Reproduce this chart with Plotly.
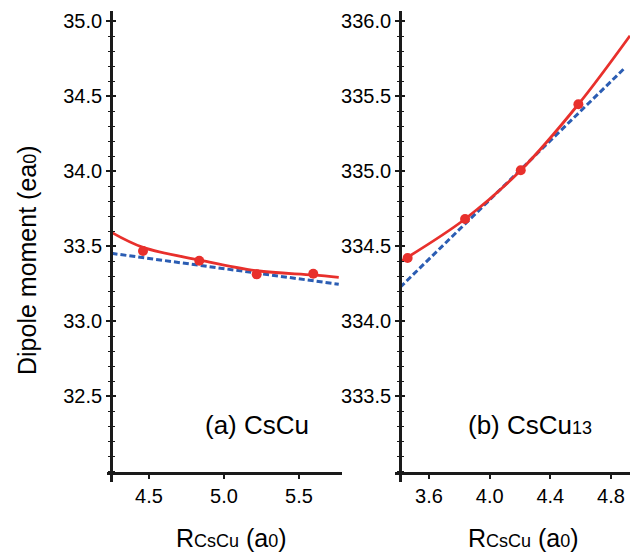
import plotly.graph_objects as go

# ---- data -------------------------------------------------------------
# (a) CsCu : computed dipole moments and fitted curves
r_a = [4.46, 4.835, 5.218, 5.595]
d_a = [33.467, 33.402, 33.311, 33.315]
fit_r_a = [4.25, 4.46, 4.835, 5.218, 5.595, 5.765]
fit_d_a = [33.591, 33.491, 33.407, 33.335, 33.307, 33.291]
lin_r_a = [4.25, 5.765]
lin_d_a = [33.451, 33.245]

# (b) CsCu13
r_b = [3.459, 3.838, 4.205, 4.585]
d_b = [334.42, 334.68, 335.005, 335.445]
fit_r_b = [3.41, 3.838, 4.205, 4.585, 4.925]
fit_d_b = [334.395, 334.68, 335.005, 335.445, 335.902]
lin_r_b = [3.41, 4.893]
lin_d_b = [334.225, 335.689]

yticks_a = [32.5, 33.0, 33.5, 34.0, 34.5, 35.0]
yticks_b = [333.5, 334.0, 334.5, 335.0, 335.5, 336.0]
xticks_a = [4.5, 5.0, 5.5]
xticks_b = [3.6, 4.0, 4.4, 4.8]

RED = "#E8302C"
BLUE = "#2B5DB3"
INK = "#1a1a1a"
FONT = "Liberation Sans, Arial, sans-serif"

W, H = 642, 554


def fx(px):
    return px / W


def fy(py):
    return 1 - py / H


def small(s, size=17):
    # reduced-size index text kept close to the baseline
    return f"<span style='font-size:{size}px'>{s}</span>"


fig = go.Figure()


def add_panel(xa, ya, fr, fd, lr, ld, r, d):
    fig.add_trace(go.Scatter(x=lr, y=ld, mode="lines", xaxis=xa, yaxis=ya,
                             line=dict(color=BLUE, width=3, dash="6px,3px"),
                             showlegend=False, hoverinfo="skip"))
    fig.add_trace(go.Scatter(x=fr, y=fd, mode="lines", xaxis=xa, yaxis=ya,
                             line=dict(color=RED, width=2.8, shape="spline"),
                             showlegend=False, hoverinfo="skip"))
    fig.add_trace(go.Scatter(x=r, y=d, mode="markers", xaxis=xa, yaxis=ya,
                             marker=dict(color=RED, size=10),
                             showlegend=False))


add_panel("x", "y", fit_r_a, fit_d_a, lin_r_a, lin_d_a, r_a, d_a)
add_panel("x2", "y2", fit_r_b, fit_d_b, lin_r_b, lin_d_b, r_b, d_b)
# placeholders so the inner-tick companion axes are drawn
fig.add_trace(go.Scatter(x=[None], y=[None], xaxis="x", yaxis="y3",
                         showlegend=False, hoverinfo="skip"))
fig.add_trace(go.Scatter(x=[None], y=[None], xaxis="x2", yaxis="y4",
                         showlegend=False, hoverinfo="skip"))

tickfont = dict(family=FONT, size=20, color="black")
ydom = [fy(482), fy(11)]
xpos = fy(473.3)

yr_a = [35 - 461 / 150, 35 + 10 / 150]
yr_b = [336 - 461 / 150, 336 + 10 / 150]
xr_a = [4.5 - (149 - 106.7) / 150, 4.5 + (341.7 - 149) / 150]
xr_b = [3.6 - (429 - 395) / 151.7, 4.8 + (630 - 611) / 151.7]


def xaxis(dom, rng, ticks):
    return dict(domain=dom, range=rng, anchor="free", position=xpos,
                showline=True, linecolor=INK, linewidth=2.8,
                showgrid=False, zeroline=False,
                tickmode="array", tickvals=ticks, tickformat=".1f",
                ticks="outside", ticklen=4, tickwidth=1.8, tickcolor=INK,
                tickfont=tickfont)


def yaxis(rng, ticks, pos):
    return dict(domain=ydom, range=rng, anchor="free", position=pos,
                showline=True, linecolor=INK, linewidth=2.8,
                showgrid=False, zeroline=False,
                tickmode="array", tickvals=ticks, tickformat=".1f",
                ticks="outside", ticklen=4, tickwidth=1.8, tickcolor=INK,
                tickfont=tickfont,
                minor=dict(dtick=0.1, tick0=0, ticks="outside", ticklen=2.5,
                           tickwidth=1.4, tickcolor=INK, showgrid=False))


def yinner(rng, ticks, pos, over):
    return dict(domain=ydom, range=rng, anchor="free", position=pos,
                overlaying=over, showline=False, showgrid=False,
                zeroline=False, showticklabels=False,
                tickmode="array", tickvals=ticks,
                ticks="inside", ticklen=3.5, tickwidth=1.8, tickcolor=INK,
                minor=dict(dtick=0.1, tick0=0, ticks="inside", ticklen=2.5,
                           tickwidth=1.4, tickcolor=INK, showgrid=False))


sub_title = dict(family=FONT, size=25, color="black")
label_font = dict(family=FONT, size=26, color="black")

x_title = "R" + small("CsCu", 18) + " (a" + small("0", 18) + ")"

fig.update_layout(
    width=W, height=H,
    margin=dict(l=0, r=0, t=0, b=0),
    paper_bgcolor="white", plot_bgcolor="rgba(0,0,0,0)",
    showlegend=False,
    xaxis=xaxis([fx(106.7), fx(341.7)], xr_a, xticks_a),
    xaxis2=xaxis([fx(395), fx(630)], xr_b, xticks_b),
    yaxis=yaxis(yr_a, yticks_a, fx(111)),
    yaxis2=yaxis(yr_b, yticks_b, fx(400)),
    yaxis3=yinner(yr_a, yticks_a, fx(111), "y"),
    yaxis4=yinner(yr_b, yticks_b, fx(400), "y2"),
    annotations=[
        dict(text="Dipole moment (ea" + small("0", 18) + ")", textangle=-90,
             x=fx(27), y=fy(260), xref="paper", yref="paper",
             showarrow=False, font=sub_title, xanchor="center", yanchor="middle"),
        dict(text=x_title,
             x=fx(231), y=fy(538), xref="paper", yref="paper",
             showarrow=False, font=sub_title, xanchor="center", yanchor="middle"),
        dict(text=x_title,
             x=fx(523), y=fy(538), xref="paper", yref="paper",
             showarrow=False, font=sub_title, xanchor="center", yanchor="middle"),
        dict(text="(a) CsCu",
             x=fx(257), y=fy(425), xref="paper", yref="paper",
             showarrow=False, font=label_font, xanchor="center", yanchor="middle"),
        dict(text="(b) CsCu" + small("13", 18),
             x=fx(530), y=fy(425), xref="paper", yref="paper",
             showarrow=False, font=label_font, xanchor="center", yanchor="middle"),
    ],
)

fig.write_html("out.html")
